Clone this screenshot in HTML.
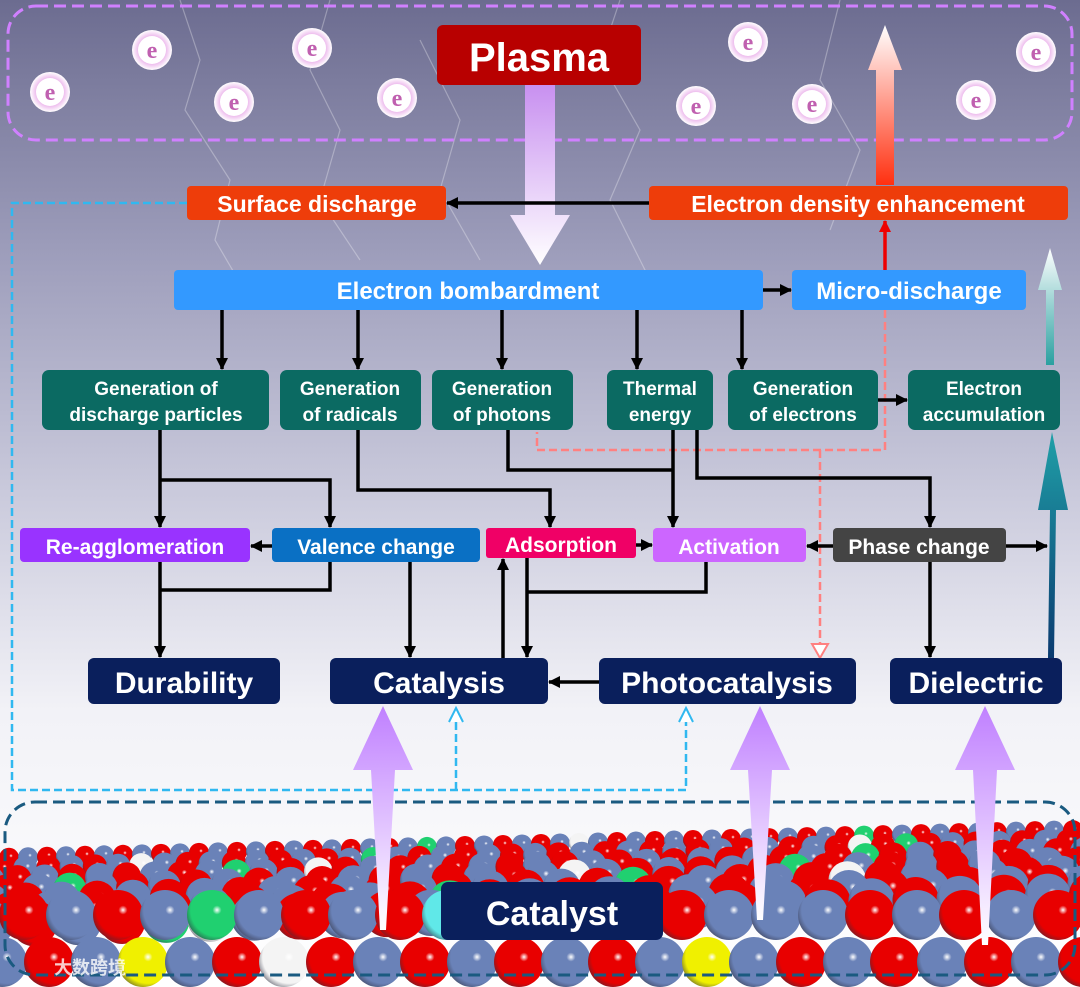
<!DOCTYPE html>
<html><head><meta charset="utf-8"><style>
html,body{margin:0;padding:0;width:1080px;height:987px;overflow:hidden;background:#fff}
svg{display:block}
text{font-family:"Liberation Sans",Arial,sans-serif;font-weight:bold;fill:#fff;text-anchor:middle}
</style></head><body>
<svg id="s" width="1080" height="987" viewBox="0 0 1080 987" xmlns="http://www.w3.org/2000/svg">
<defs>
<linearGradient id="bg" x1="0" y1="0" x2="0" y2="1">
<stop offset="0" stop-color="#6c6c90"/><stop offset="0.25" stop-color="#9c9cba"/><stop offset="0.5" stop-color="#cacadc"/><stop offset="0.72" stop-color="#f2f2f7"/><stop offset="1" stop-color="#ffffff"/></linearGradient>
<linearGradient id="pdown" x1="0" y1="0" x2="0" y2="1"><stop offset="0" stop-color="#c890f0"/><stop offset="1" stop-color="#ffffff"/></linearGradient>
<linearGradient id="pup" x1="0" y1="0" x2="0" y2="1"><stop offset="0" stop-color="#c080ff"/><stop offset="1" stop-color="#ffffff"/></linearGradient>
<linearGradient id="rup" x1="0" y1="0" x2="0" y2="1"><stop offset="0" stop-color="#ffffff"/><stop offset="1" stop-color="#ff3010"/></linearGradient>
<linearGradient id="tup" x1="0" y1="0" x2="0" y2="1"><stop offset="0" stop-color="#20a0a8"/><stop offset="1" stop-color="#0a3a70"/></linearGradient>
<linearGradient id="tup2" x1="0" y1="0" x2="0" y2="1"><stop offset="0" stop-color="#ffffff"/><stop offset="1" stop-color="#2aa0a0"/></linearGradient>
<radialGradient id="eg"><stop offset="0.6" stop-color="#e8a8e8"/><stop offset="1" stop-color="#fff"/></radialGradient>
<marker id="ah" markerWidth="14" markerHeight="14" refX="11" refY="6" orient="auto" markerUnits="userSpaceOnUse"><path d="M0,0 L12,6 L0,12 z" fill="#000"/></marker>
<marker id="ahr" markerWidth="14" markerHeight="14" refX="11" refY="6" orient="auto" markerUnits="userSpaceOnUse"><path d="M0,0 L12,6 L0,12 z" fill="#e00"/></marker>
</defs>
<rect width="1080" height="987" fill="url(#bg)"/>
<g stroke="#fff" stroke-opacity="0.3" fill="none" stroke-width="1.2">
<polyline points="180,0 200,60 185,110 230,180 215,240 250,300"/>
<polyline points="330,0 310,70 340,130 320,200 360,260"/>
<polyline points="620,0 600,60 640,130 610,200 650,280"/>
<polyline points="840,0 820,80 860,150 830,230"/>
<polyline points="420,40 460,120 440,190 480,260"/>
</g>
<g id="cat"></g>
<rect x="8" y="6" width="1064" height="134" rx="28" fill="none" stroke="#d080ff" stroke-width="3" stroke-dasharray="12 6"/>
<g id="es"></g>
<path d="M525,85 L555,85 L555,215 L570,215 L540,265 L510,215 L525,215 Z" fill="url(#pdown)"/>
<path d="M876,185 L894,185 L894,70 L902,70 L885,25 L868,70 L876,70 Z" fill="url(#rup)"/>
<path d="M1046,365 L1054,365 L1054,290 L1062,290 L1050,248 L1038,290 L1046,290 Z" fill="url(#tup2)"/>
<path d="M1048,658 L1054,658 L1056,510 L1068,510 L1052,432 L1038,510 L1050,510 Z" fill="url(#tup)"/>
<rect x="437" y="25" width="204" height="60" rx="6" fill="#b80000"/>
<text x="539" y="71" font-size="40">Plasma</text>
<polyline points="187,203 12,203 12,790 686,790 686,712" fill="none" stroke="#30b8f0" stroke-width="2.5" stroke-dasharray="8 4"/>
<line x1="456" y1="790" x2="456" y2="712" stroke="#30b8f0" stroke-width="2.5" stroke-dasharray="8 4"/>
<path d="M449,722 L456,708 L463,722" fill="#fff" stroke="#30b8f0" stroke-width="2"/>
<path d="M679,722 L686,708 L693,722" fill="#fff" stroke="#30b8f0" stroke-width="2"/>
<polyline points="885,310 885,450 537,450 537,432" fill="none" stroke="#ff8080" stroke-width="2.5" stroke-dasharray="8 4"/>
<line x1="820" y1="450" x2="820" y2="645" stroke="#ff8080" stroke-width="2.5" stroke-dasharray="8 4"/>
<path d="M812,644 L820,658 L828,644 Z" fill="#fff" stroke="#ff8080" stroke-width="2"/>
<line x1="885" y1="270" x2="885" y2="221" stroke="#e00" stroke-width="3.5" marker-end="url(#ahr)"/>
<rect x="187" y="186" width="259" height="34" rx="4" fill="#ee3d0a"/><text x="317" y="212" font-size="23">Surface discharge</text>
<rect x="649" y="186" width="419" height="34" rx="4" fill="#ee3d0a"/><text x="858" y="212" font-size="23">Electron density enhancement</text>
<rect x="174" y="270" width="589" height="40" rx="4" fill="#3399ff"/><text x="468" y="299" font-size="24">Electron bombardment</text>
<rect x="792" y="270" width="234" height="40" rx="4" fill="#3399ff"/><text x="909" y="299" font-size="24">Micro-discharge</text>
<g stroke="#000" stroke-width="3.5" fill="none" marker-end="url(#ah)">
<line x1="649" y1="203" x2="447" y2="203"/>
<line x1="763" y1="290" x2="791" y2="290"/>
<line x1="222" y1="310" x2="222" y2="369"/><line x1="358" y1="310" x2="358" y2="369"/><line x1="502" y1="310" x2="502" y2="369"/><line x1="637" y1="310" x2="637" y2="369"/><line x1="742" y1="310" x2="742" y2="369"/>
<line x1="878" y1="400" x2="907" y2="400"/>
<line x1="160" y1="430" x2="160" y2="527"/>
<polyline points="160,480 330,480 330,527"/>
<line x1="160" y1="562" x2="160" y2="657"/>
<line x1="272" y1="546" x2="251" y2="546"/>
<polyline points="358,430 358,490 550,490 550,527"/>
<line x1="673" y1="430" x2="673" y2="527"/>
<polyline points="697,430 697,478 930,478 930,527"/>
<line x1="636" y1="545" x2="652" y2="545"/>
<line x1="833" y1="546" x2="807" y2="546"/>
<line x1="1006" y1="546" x2="1047" y2="546"/>
<line x1="930" y1="562" x2="930" y2="657"/>
<line x1="410" y1="562" x2="410" y2="657"/>
<line x1="503" y1="658" x2="503" y2="559"/>
<line x1="527" y1="558" x2="527" y2="657"/>
<line x1="599" y1="682" x2="549" y2="682"/>
</g>
<g stroke="#000" stroke-width="3.5" fill="none">
<polyline points="330,562 330,590 160,590"/>
<polyline points="508,430 508,470 673,470"/>
<polyline points="706,562 706,592 527,592"/>
</g>
<g fill="#0b6a62">
<rect x="42" y="370" width="227" height="60" rx="7"/><rect x="280" y="370" width="141" height="60" rx="7"/><rect x="432" y="370" width="141" height="60" rx="7"/><rect x="607" y="370" width="106" height="60" rx="7"/><rect x="728" y="370" width="150" height="60" rx="7"/><rect x="908" y="370" width="152" height="60" rx="7"/></g>
<g font-size="19">
<text x="156" y="395">Generation of</text><text x="156" y="421">discharge particles</text>
<text x="350" y="395">Generation</text><text x="350" y="421">of radicals</text>
<text x="502" y="395">Generation</text><text x="502" y="421">of photons</text>
<text x="660" y="395">Thermal</text><text x="660" y="421">energy</text>
<text x="803" y="395">Generation</text><text x="803" y="421">of electrons</text>
<text x="984" y="395">Electron</text><text x="984" y="421">accumulation</text></g>
<rect x="20" y="528" width="230" height="34" rx="4" fill="#9933ff"/><text x="135" y="554" font-size="21">Re-agglomeration</text>
<rect x="272" y="528" width="208" height="34" rx="4" fill="#0a70c4"/><text x="376" y="554" font-size="21">Valence change</text>
<rect x="486" y="528" width="150" height="30" rx="3" fill="#f00066"/><text x="561" y="552" font-size="21">Adsorption</text>
<rect x="653" y="528" width="153" height="34" rx="4" fill="#cc66ff"/><text x="729" y="554" font-size="21">Activation</text>
<rect x="833" y="528" width="173" height="34" rx="4" fill="#444"/><text x="919" y="554" font-size="21">Phase change</text>
<g fill="#0a1f5c"><rect x="88" y="658" width="192" height="46" rx="6"/><rect x="330" y="658" width="218" height="46" rx="6"/><rect x="599" y="658" width="257" height="46" rx="6"/><rect x="890" y="658" width="172" height="46" rx="6"/></g>
<g font-size="30"><text x="184" y="693">Durability</text><text x="439" y="693">Catalysis</text><text x="727" y="693">Photocatalysis</text><text x="976" y="693">Dielectric</text></g>
<g id="front"></g>
</svg>
<script>
var ns="http://www.w3.org/2000/svg",s=document.getElementById('s');
function el(t,a,p){var e=document.createElementNS(ns,t);for(var k in a)e.setAttribute(k,a[k]);(p||s).appendChild(e);return e;}
var es=document.getElementById('es');
[[152,50],[312,48],[50,92],[234,102],[397,98],[748,42],[696,106],[812,104],[976,100],[1036,52]].forEach(function(p){
el('circle',{cx:p[0],cy:p[1],r:20,fill:'url(#eg)'},es);el('circle',{cx:p[0],cy:p[1],r:14,fill:'#fff'},es);
var t=el('text',{x:p[0],y:p[1]+8,'font-size':24,style:'fill:#c060b0;font-family:Liberation Serif,serif'},es);t.textContent='e';});
var defs=s.querySelector('defs'),cols={r:'#e80000',b:'#6a82b8',g:'#20d070',y:'#f0f000',w:'#f4f4f4',c:'#60e8e8',o:'#d07030',p:'#e090e0'};
for(var k in cols){var g=el('radialGradient',{id:'sp'+k,cx:'0.6',cy:'0.4',r:'0.75'},defs);el('stop',{offset:'0','stop-color':'#fff'},g);el('stop',{offset:'0.12','stop-color':cols[k]},g);el('stop',{offset:'0.7','stop-color':cols[k]},g);el('stop',{offset:'1','stop-color':'#303040'},g);}
var cat=document.getElementById('cat');
for(var row=0;row<7;row++){var r=10+row*2.2;
 for(var i=0;i<60;i++){var x=i*2*r*0.95+(row%2)*r-10;if(x>1100)break;var y=858+row*11-(x/1080)*28;
 var c=((i+row)%2)?'r':'b';if((i*7+row*3)%23==0)c='g';if((i*5+row)%31==0)c='w';
 el('circle',{cx:x,cy:y,r:r,fill:'url(#sp'+c+')'},cat);}}
var f1='rbrbgbrbrcbbrbrbbbrbrbrb',f2='brbybrwrbrbrbrbybrbrbr';
for(var i=0;i<24;i++){el('circle',{cx:i*47+24,cy:915,r:25,fill:'url(#sp'+f1[i%f1.length]+')'},cat);}
for(var i=0;i<24;i++){el('circle',{cx:i*47+2,cy:962,r:25,fill:'url(#sp'+f2[i%f2.length]+')'},cat);}
var fr=document.getElementById('front');
el('rect',{x:5,y:802,width:1070,height:173,rx:30,fill:'none',stroke:'#1a5a80','stroke-width':3,'stroke-dasharray':'12 6'},fr);
[[383,930],[760,920],[985,945]].forEach(function(p){var x=p[0];
el('path',{d:'M'+(x-3)+','+p[1]+' L'+(x-12)+',770 L'+(x-30)+',770 L'+x+',706 L'+(x+30)+',770 L'+(x+12)+',770 L'+(x+3)+','+p[1]+' Z',fill:'url(#pup)'},fr);});
el('rect',{x:441,y:882,width:222,height:58,rx:7,fill:'#0a1f5c'},fr);
var t=el('text',{x:552,y:925,'font-size':34},fr);t.textContent='Catalyst';
var t2=el('text',{x:90,y:974,'font-size':18,style:'fill:#fff;opacity:0.8;font-family:Noto Sans CJK SC,sans-serif'},fr);t2.textContent='大数跨境';
</script>
</body></html>
